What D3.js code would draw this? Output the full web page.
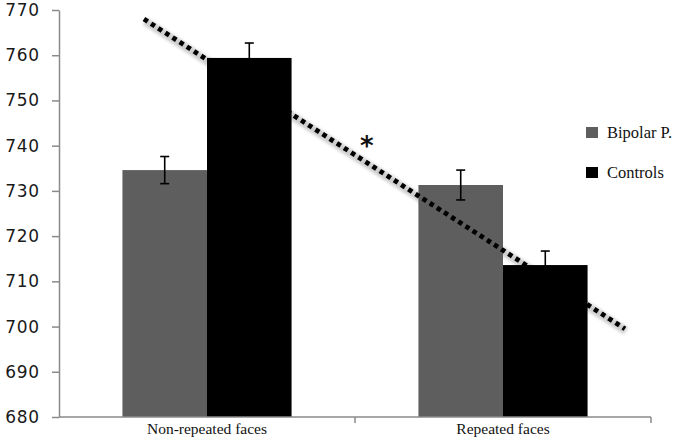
<!DOCTYPE html>
<html>
<head>
<meta charset="utf-8">
<script src="https://cdn.jsdelivr.net/npm/d3@7/dist/d3.min.js"></script>
<style>
  body { margin: 0; background: #fff; }
  svg { display: block; }
</style>
</head>
<body>
<div id="chart"></div>
<script>
// Chart data
const categories = ["Non-repeated faces", "Repeated faces"];
const groups = ["Bipolar P.", "Controls"];
const bipolarValues = [734.6, 731.3];
const controlValues = [759.4, 713.6];
const bipolarErrors = [3.0, 3.3];
const controlErrors = [3.3, 3.1];
const yTicks = [680, 690, 700, 710, 720, 730, 740, 750, 760, 770];
// dotted trend annotation: position along category axis (0..2) and value
const trendPoints = [{pos: 0.287, value: 768}, {pos: 1.912, value: 699.5}];

const width = 680, height = 440;
const margin = {top: 10, right: 29, bottom: 23, left: 59};
const colors = {"Bipolar P.": "#5e5e5e", "Controls": "#000000"};
const serif = "'Liberation Serif', 'Times New Roman', serif";

const svg = d3.select("#chart").append("svg")
    .attr("width", width)
    .attr("height", height);

const x0 = d3.scaleBand()
    .domain(categories)
    .range([margin.left, width - margin.right])
    .padding(0);

const x1 = d3.scaleBand()
    .domain(groups)
    .range([0, x0.bandwidth()])
    .paddingInner(0)
    .paddingOuter(0.75);

const xPos = d3.scaleLinear()
    .domain([0, 2])
    .range([margin.left, width - margin.right]);

const y = d3.scaleLinear()
    .domain([680, 770])
    .range([height - margin.bottom, margin.top]);

const trendLine = d3.line()
    .x(d => xPos(d.pos))
    .y(d => y(d.value));

// soft shadow of the trend line sits behind the bars
const defs = svg.append("defs");
defs.append("filter")
    .attr("id", "blur")
    .attr("x", "-10%").attr("y", "-10%")
    .attr("width", "120%").attr("height", "120%")
    .append("feGaussianBlur")
    .attr("stdDeviation", 1.8);

svg.append("path")
    .attr("d", trendLine(trendPoints))
    .attr("transform", "translate(1,2)")
    .attr("stroke", "#bdbdbd")
    .attr("stroke-width", 8)
    .attr("fill", "none")
    .attr("filter", "url(#blur)")
    .attr("opacity", 0.75);

// bars
const rows = categories.map((c, i) => ({
    category: c,
    items: [
        {group: groups[0], value: bipolarValues[i], err: bipolarErrors[i]},
        {group: groups[1], value: controlValues[i], err: controlErrors[i]}
    ]
}));

const groupG = svg.selectAll(".cat")
    .data(rows)
    .join("g")
    .attr("class", "cat")
    .attr("transform", d => "translate(" + x0(d.category) + ",0)");

groupG.selectAll("rect")
    .data(d => d.items)
    .join("rect")
    .attr("x", d => x1(d.group))
    .attr("y", d => y(d.value))
    .attr("width", x1.bandwidth())
    .attr("height", d => y(680) - y(d.value))
    .attr("fill", d => colors[d.group]);

// error bars
const errG = groupG.selectAll(".err")
    .data(d => d.items)
    .join("g")
    .attr("class", "err")
    .attr("transform", d => "translate(" + (x1(d.group) + x1.bandwidth() / 2) + ",0)");

errG.append("line")
    .attr("y1", d => y(d.value + d.err))
    .attr("y2", d => y(d.value - d.err))
    .attr("stroke", "#000")
    .attr("stroke-width", 1.6);
errG.append("line")
    .attr("x1", -4.5).attr("x2", 4.5)
    .attr("y1", d => y(d.value + d.err))
    .attr("y2", d => y(d.value + d.err))
    .attr("stroke", "#000")
    .attr("stroke-width", 1.6);
errG.append("line")
    .attr("x1", -4.5).attr("x2", 4.5)
    .attr("y1", d => y(d.value - d.err))
    .attr("y2", d => y(d.value - d.err))
    .attr("stroke", "#000")
    .attr("stroke-width", 1.6);

// dotted trend line
svg.append("path")
    .attr("d", trendLine(trendPoints))
    .attr("stroke", "#000")
    .attr("stroke-width", 4.8)
    .attr("stroke-dasharray", "4.5 4")
    .attr("fill", "none");

// significance star
svg.append("text")
    .attr("x", xPos(1.04))
    .attr("y", y(740.6) + 12)
    .attr("text-anchor", "middle")
    .attr("font-family", "'DejaVu Sans', sans-serif")
    .attr("font-weight", "bold")
    .attr("font-size", 26)
    .attr("fill", "#111")
    .text("*");

// y axis
const yAxis = svg.append("g")
    .attr("transform", "translate(" + margin.left + ",0)")
    .call(d3.axisLeft(y).tickValues(yTicks).tickSize(7).tickPadding(12).tickSizeOuter(0));
yAxis.select(".domain").attr("stroke", "#8a8a8a").attr("stroke-width", 1.5);
yAxis.selectAll(".tick line").attr("stroke", "#8a8a8a").attr("stroke-width", 1.5);
yAxis.selectAll(".tick text")
    .attr("font-family", "'DejaVu Sans', Verdana, sans-serif")
    .attr("font-size", 17)
    .attr("letter-spacing", 0.8)
    .attr("fill", "#1a1a1a");

// x axis
const xAxisG = svg.append("g")
    .attr("transform", "translate(0," + y(680) + ")");
xAxisG.append("line")
    .attr("x1", margin.left).attr("x2", width - margin.right)
    .attr("stroke", "#8a8a8a").attr("stroke-width", 1.5);
xAxisG.selectAll(".sep")
    .data(categories.slice(1).concat(["end"]))
    .join("line")
    .attr("class", "sep")
    .attr("x1", d => d === "end" ? width - margin.right : x0(d))
    .attr("x2", d => d === "end" ? width - margin.right : x0(d))
    .attr("y1", 0).attr("y2", 6)
    .attr("stroke", "#8a8a8a").attr("stroke-width", 1.5);
xAxisG.selectAll(".lbl")
    .data(categories)
    .join("text")
    .attr("class", "lbl")
    .attr("x", d => x0(d) + x0.bandwidth() / 2)
    .attr("y", 17)
    .attr("text-anchor", "middle")
    .attr("font-family", serif)
    .attr("font-size", 15.5)
    .attr("fill", "#111")
    .text(d => d);

// legend
const legend = svg.append("g")
    .attr("transform", "translate(586,127)");
const legItem = legend.selectAll(".leg")
    .data(groups)
    .join("g")
    .attr("class", "leg")
    .attr("transform", (d, i) => "translate(0," + i * 40 + ")");
legItem.append("rect")
    .attr("width", 12)
    .attr("height", 11)
    .attr("fill", d => colors[d]);
legItem.append("text")
    .attr("x", 21)
    .attr("y", 10.5)
    .attr("font-family", serif)
    .attr("font-size", 16.5)
    .attr("fill", "#111")
    .text(d => d);
</script>
</body>
</html>
